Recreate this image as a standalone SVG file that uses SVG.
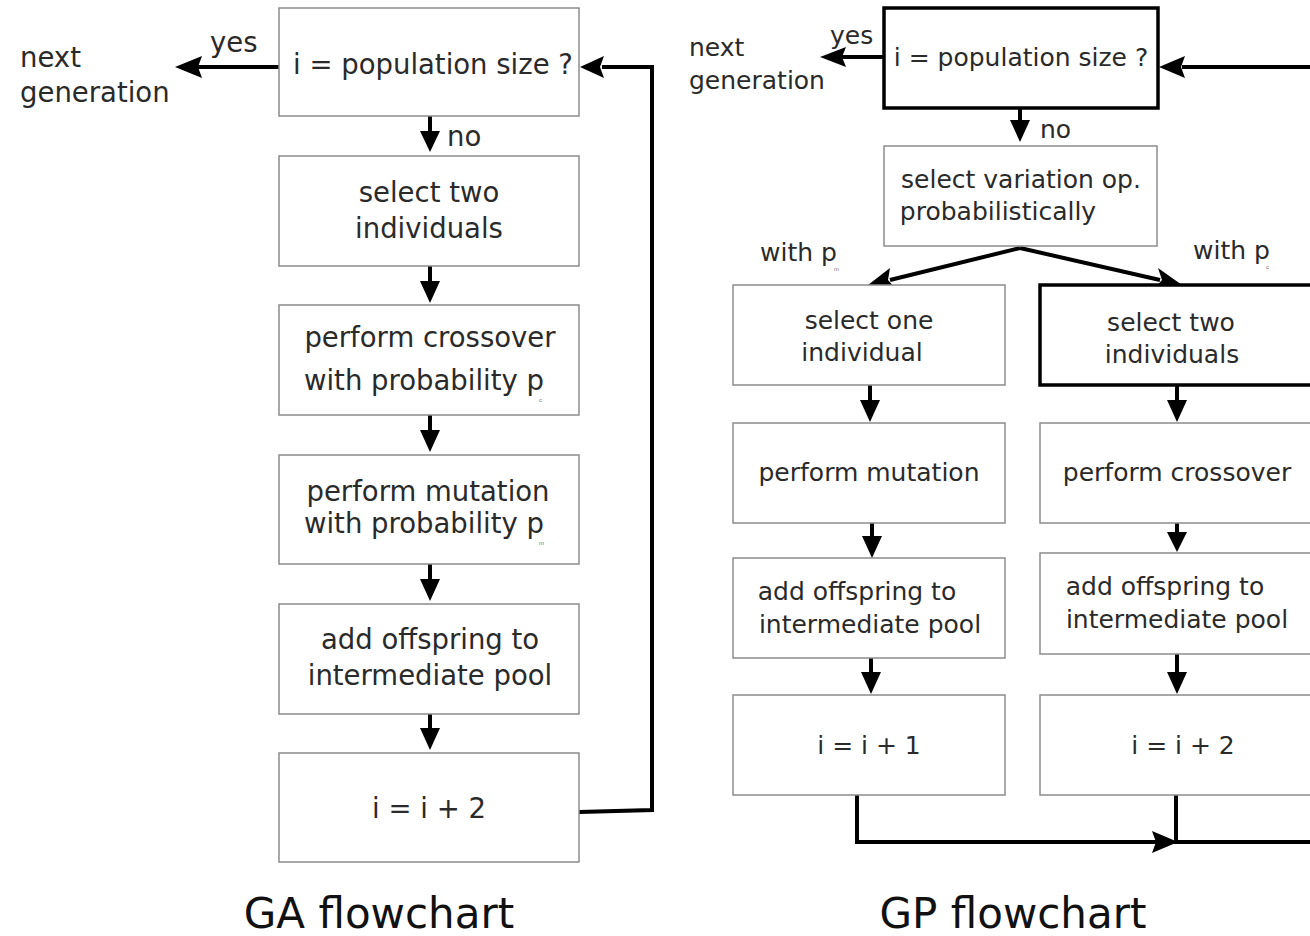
<svg xmlns="http://www.w3.org/2000/svg" width="1310" height="936" viewBox="0 0 1310 936">
<defs>
<style>
.box{fill:#fff;stroke:#8c8c8c;stroke-width:1.5}
.thick{fill:#fff;stroke:#000;stroke-width:3.5}
.t{font-family:"DejaVu Sans","Liberation Sans",sans-serif;fill:#2a2a2a;text-anchor:middle}
.l{font-family:"DejaVu Sans","Liberation Sans",sans-serif;fill:#2a2a2a}
.ga{font-size:27.5px}
.gp{font-size:25px}
.s{font-family:"Liberation Sans",Arial,sans-serif;font-size:6px;fill:#777}
.title{font-family:"DejaVu Sans","Liberation Sans",sans-serif;font-size:42px;fill:#111;text-anchor:middle}
.c{fill:none;stroke:#000;stroke-width:4}
</style>
</defs>
<rect width="1310" height="936" fill="#fff"/>

<g id="connectors">
<!-- GA -->
<path class="c" d="M279,67 H198"/>
<polygon points="175,67 202,56 198,67 202,78" fill="#000"/>
<path class="c" d="M430,116 V136"/><polygon points="420,131 440,131 430,152" fill="#000"/>
<path class="c" d="M430,266 V286"/><polygon points="420,281 440,281 430,303" fill="#000"/>
<path class="c" d="M430,415 V435"/><polygon points="420,430 440,430 430,452" fill="#000"/>
<path class="c" d="M430,564 V584"/><polygon points="420,579 440,579 430,601" fill="#000"/>
<path class="c" d="M430,714 V733"/><polygon points="420,728 440,728 430,750" fill="#000"/>
<path class="c" d="M579,812 L652,810 V67 H602"/><polygon points="580,67 604,56 600,67 604,78" fill="#000"/>
<!-- GP -->
<path class="c" d="M884,57 H842"/><polygon points="820,57 846,47 842,57 846,67" fill="#000"/>
<path class="c" d="M1310,67 H1182"/><polygon points="1159,67 1185,56 1181,67 1185,78" fill="#000"/>
<path class="c" d="M1020,108 V124"/><polygon points="1010,120 1030,120 1020,142" fill="#000"/>
<path class="c" d="M1020,248 L890,280"/><polygon points="868,285 890,268 888,280 896,289" fill="#000"/>
<path class="c" d="M1020,248 L1160,280"/><polygon points="1182,285 1154,289 1162,280 1158,268" fill="#000"/>
<path class="c" d="M870,385 V403"/><polygon points="860,400 880,400 870,422" fill="#000"/>
<path class="c" d="M1177,385 V403"/><polygon points="1167,400 1187,400 1177,422" fill="#000"/>
<path class="c" d="M872,523 V539"/><polygon points="862,536 882,536 872,558" fill="#000"/>
<path class="c" d="M1177,523 V535"/><polygon points="1167,532 1187,532 1177,552" fill="#000"/>
<path class="c" d="M871,658 V675"/><polygon points="861,672 881,672 871,694" fill="#000"/>
<path class="c" d="M1177,654 V675"/><polygon points="1167,672 1187,672 1177,694" fill="#000"/>
<path class="c" d="M857,795 V842 H1158"/><polygon points="1178,842 1152,831 1156,842 1152,853" fill="#000"/>
<path class="c" d="M1176,795 V842 H1312"/>
</g>

<g id="ga-labels">
<text class="l ga" x="20" y="67">next</text>
<text class="l ga" x="20" y="102">generation</text>
<text class="l ga" x="210" y="52">yes</text>
<text class="l ga" x="447" y="146">no</text>
<text class="title" x="379" y="928">GA flowchart</text>
</g>

<g id="ga-check">
<rect class="box" x="279" y="8" width="300" height="108"/>
<text class="t ga" x="433" y="74">i = population size ?</text>
</g>
<g id="ga-select">
<rect class="box" x="279" y="156" width="300" height="110"/>
<text class="t ga" x="429" y="202">select two</text>
<text class="t ga" x="429" y="238">individuals</text>
</g>
<g id="ga-crossover">
<rect class="box" x="279" y="305" width="300" height="110"/>
<text class="t ga" x="430" y="347">perform crossover</text>
<text class="t ga" x="424" y="390">with probability p</text>
<text class="s" x="539" y="402">c</text>
</g>
<g id="ga-mutation">
<rect class="box" x="279" y="455" width="300" height="109"/>
<text class="t ga" x="428" y="501">perform mutation</text>
<text class="t ga" x="424" y="533">with probability p</text>
<text class="s" x="539" y="545">m</text>
</g>
<g id="ga-add">
<rect class="box" x="279" y="604" width="300" height="110"/>
<text class="t ga" x="430" y="649">add offspring to</text>
<text class="t ga" x="430" y="685">intermediate pool</text>
</g>
<g id="ga-inc">
<rect class="box" x="279" y="753" width="300" height="109"/>
<text class="t ga" x="429" y="818">i = i + 2</text>
</g>

<g id="gp-labels">
<text class="l gp" x="689" y="56">next</text>
<text class="l gp" x="689" y="89">generation</text>
<text class="l gp" x="830" y="44">yes</text>
<text class="l gp" x="1040" y="138">no</text>
<text class="l gp" x="760" y="261">with p</text>
<text class="s" x="834" y="271">m</text>
<text class="l gp" x="1193" y="259">with p</text>
<text class="s" x="1266" y="269">c</text>
<text class="title" x="1013" y="928">GP flowchart</text>
</g>

<g id="gp-check">
<rect class="thick" x="884" y="8" width="274" height="100"/>
<text class="t gp" x="1021" y="66">i = population size ?</text>
</g>
<g id="gp-selectop">
<rect class="box" x="884" y="146" width="273" height="100"/>
<text class="t gp" x="1021" y="188">select variation op.</text>
<text class="t gp" x="998" y="220">probabilistically</text>
</g>
<g id="gp-select-one">
<rect class="box" x="733" y="285" width="272" height="100"/>
<text class="t gp" x="869" y="329">select one</text>
<text class="t gp" x="862" y="361">individual</text>
</g>
<g id="gp-select-two">
<rect class="thick" x="1040" y="285" width="290" height="100"/>
<text class="t gp" x="1171" y="331">select two</text>
<text class="t gp" x="1172" y="363">individuals</text>
</g>
<g id="gp-mutation">
<rect class="box" x="733" y="423" width="272" height="100"/>
<text class="t gp" x="869" y="481">perform mutation</text>
</g>
<g id="gp-crossover">
<rect class="box" x="1040" y="423" width="290" height="100"/>
<text class="t gp" x="1177" y="481">perform crossover</text>
</g>
<g id="gp-add-left">
<rect class="box" x="733" y="558" width="272" height="100"/>
<text class="t gp" x="857" y="600">add offspring to</text>
<text class="t gp" x="870" y="633">intermediate pool</text>
</g>
<g id="gp-add-right">
<rect class="box" x="1040" y="553" width="290" height="101"/>
<text class="t gp" x="1165" y="595">add offspring to</text>
<text class="t gp" x="1177" y="628">intermediate pool</text>
</g>
<g id="gp-inc1">
<rect class="box" x="733" y="695" width="272" height="100"/>
<text class="t gp" x="869" y="754">i = i + 1</text>
</g>
<g id="gp-inc2">
<rect class="box" x="1040" y="695" width="290" height="100"/>
<text class="t gp" x="1183" y="754">i = i + 2</text>
</g>
</svg>
